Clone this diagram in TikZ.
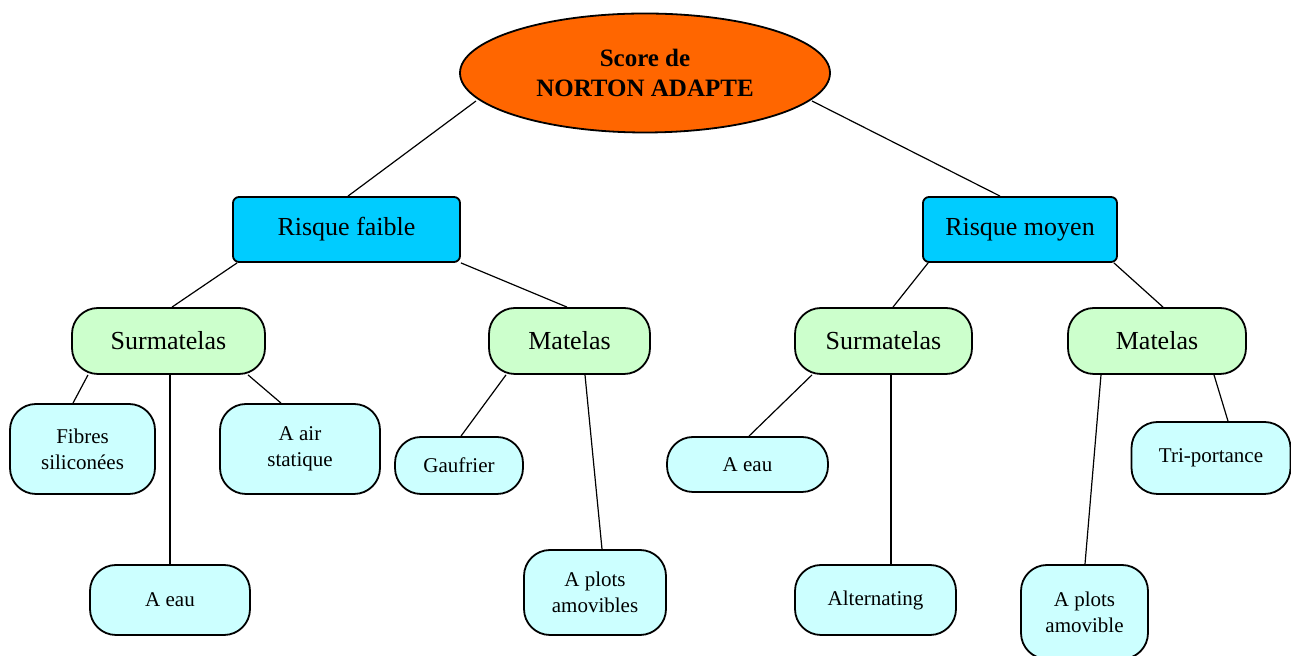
\documentclass[tikz,border=0pt]{standalone}
\usepackage{fontspec}
\setmainfont{Liberation Serif}
\usetikzlibrary{shapes.geometric}
\definecolor{rootorange}{HTML}{FF6600}
\definecolor{riskcyan}{HTML}{00CCFF}
\definecolor{midgreen}{HTML}{CCFFCC}
\definecolor{leafcyan}{HTML}{CCFFFF}
\tikzset{
  rootnode/.style={ellipse, draw=black, line width=0.9pt, fill=rootorange, inner sep=0pt,
    align=center, font=\fontsize{12.5}{15}\selectfont\bfseries},
  risknode/.style={rectangle, rounded corners=3pt, draw=black, line width=0.9pt, fill=riskcyan,
    inner sep=0pt, minimum height=32.5pt, font=\fontsize{13}{15}\selectfont},
  midnode/.style={rectangle, rounded corners=13pt, draw=black, line width=0.9pt, fill=midgreen,
    inner sep=0pt, minimum height=33pt, font=\fontsize{13}{15}\selectfont},
  leafnode/.style={rectangle, rounded corners=13pt, draw=black, line width=0.9pt, fill=leafcyan,
    inner sep=0pt, align=center, font=\fontsize{10.5}{13}\selectfont},
  link/.style={draw=black, line width=0.6pt}
}
\begin{document}
\begin{tikzpicture}[x=0.5pt,y=-0.5pt]
\useasboundingbox (0,0) rectangle (1291,656);
\begin{scope}
\clip (0,0) rectangle (1291,656);
% root
\node[rootnode, minimum width=185pt, minimum height=59.5pt] (root) at (645,73) {Score de\\NORTON ADAPTE};
% level 1
\node[risknode, minimum width=113.5pt] (rf) at (346.5,229.5) {Risque faible};
\node[risknode, minimum width=97pt] (rm) at (1020,229.5) {Risque moyen};
% level 2
\node[midnode, minimum width=96.5pt] (sl) at (168.5,341) {Surmatelas};
\node[midnode, minimum width=80.5pt] (ml) at (569.5,341) {Matelas};
\node[midnode, minimum width=88.5pt] (sr) at (883.5,341) {Surmatelas};
\node[midnode, minimum width=89pt] (mr) at (1157,341) {Matelas};
% leaves
\node[leafnode, minimum width=72.5pt, minimum height=45pt] (fib) at (82.5,449) {Fibres\\siliconées};
\node[leafnode, minimum width=80pt, minimum height=45pt] (air) at (300,449) {A air\\statique};
\node[leafnode, minimum width=80pt, minimum height=35pt] (eaul) at (170,600) {A eau};
\node[leafnode, minimum width=64pt, minimum height=28.5pt] (gau) at (459,465.5) {Gaufrier};
\node[leafnode, minimum width=71pt, minimum height=42.5pt] (plotl) at (595,592.5) {A plots\\amovibles};
\node[leafnode, minimum width=80.5pt, minimum height=27.5pt] (eaur) at (747.5,464.5) {A eau};
\node[leafnode, minimum width=80.5pt, minimum height=35pt] (alt) at (875.5,600) {Alternating};
\node[leafnode, minimum width=63.5pt, minimum height=47pt] (plotr) at (1084.5,612) {A plots\\amovible};
\node[leafnode, minimum width=79.5pt, minimum height=36pt] (tri) at (1211,458) {Tri-portance};
% connectors
\draw[link] ([xshift=-84.5pt,yshift=-14pt]root.center) -- ([xshift=0.75pt]rf.north);
\draw[link] ([xshift=83.5pt,yshift=-14pt]root.center) -- ([xshift=-10pt]rm.north);
\draw[link] ([xshift=2.5pt]rf.south west) -- ([xshift=1.75pt]sl.north);
\draw[link] ([xshift=0pt]rf.south east) -- ([xshift=-1.25pt]ml.north);
\draw[link] ([xshift=-40.25pt]sl.south) -- ([xshift=-4.75pt]fib.north);
\draw[link] ([xshift=0.75pt]sl.south) -- (eaul.north);
\draw[link] ([xshift=39.75pt]sl.south) -- ([xshift=-9.5pt]air.north);
\draw[link] ([xshift=-31.75pt]ml.south) -- ([xshift=1pt]gau.north);
\draw[link] ([xshift=7.75pt]ml.south) -- ([xshift=3.5pt]plotl.north);
\draw[link] ([xshift=3pt]rm.south west) -- ([xshift=4.75pt]sr.north);
\draw[link] ([xshift=-2pt]rm.south east) -- ([xshift=3pt]mr.north);
\draw[link] ([xshift=-35.75pt]sr.south) -- ([xshift=0.75pt]eaur.north);
\draw[link] ([xshift=3.75pt]sr.south) -- ([xshift=7.75pt]alt.north);
\draw[link] ([xshift=-28pt]mr.south) -- ([xshift=0.25pt]plotr.north);
\draw[link] ([xshift=28.5pt]mr.south) -- ([xshift=8.5pt]tri.north);
\end{scope}
\end{tikzpicture}
\end{document}
